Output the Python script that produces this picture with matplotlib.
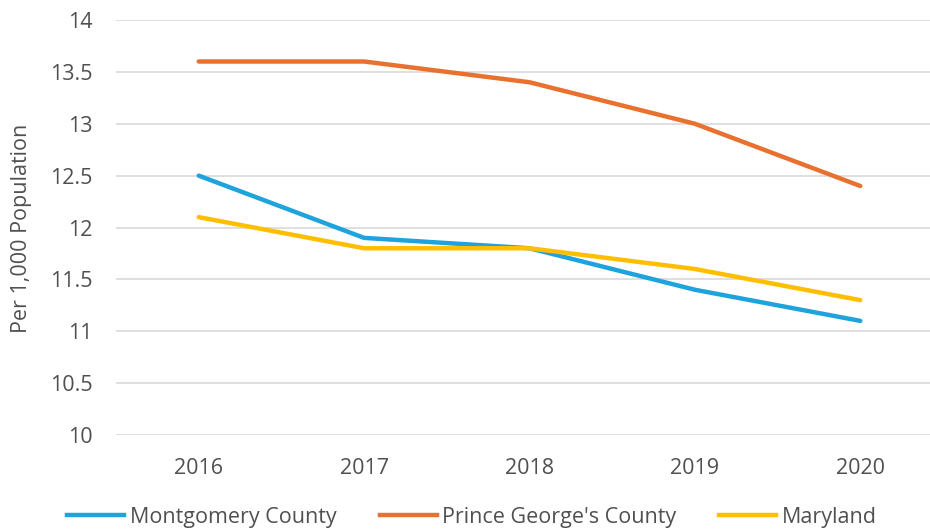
import matplotlib.pyplot as plt
from matplotlib.lines import Line2D

plt.rcParams['font.family'] = ['Open Sans', 'DejaVu Sans']

# values
years = ['2016', '2017', '2018', '2019', '2020']
montgomery = [12.5, 11.9, 11.8, 11.4, 11.1]
prince_georges = [13.6, 13.6, 13.4, 13.0, 12.4]
maryland = [12.1, 11.8, 11.8, 11.6, 11.3]
yticks = [10, 10.5, 11, 11.5, 12, 12.5, 13, 13.5, 14]
ytick_labels = ['10', '10.5', '11', '11.5', '12', '12.5', '13', '13.5', '14']

blue = '#1ea3dc'
orange = '#e8712f'
yellow = '#ffbf00'
grey = '#505050'
fs = 15.5

fig = plt.figure(figsize=(9.30, 5.31), dpi=100)
# plot area runs a bit past the right edge, like the cropped original
ax = fig.add_axes([116 / 930, 1 - 435 / 531, (943 - 116) / 930, (435 - 20) / 531])

x = range(len(years))
ax.plot(x, montgomery, color=blue, lw=3.2, solid_capstyle='round')
ax.plot(x, prince_georges, color=orange, lw=3.2, solid_capstyle='round')
ax.plot(x, maryland, color=yellow, lw=3.2, solid_capstyle='round')

ax.set_xlim(-0.5, 4.5)
ax.set_ylim(10, 14)
ax.set_yticks(yticks)
ax.set_yticklabels(ytick_labels)
ax.set_xticks(list(x))
ax.set_xticklabels(years)
ax.grid(axis='y', color='#d9d9d9', lw=1.2)
ax.set_axisbelow(True)
for s in ax.spines.values():
    s.set_visible(False)
ax.tick_params(length=0, labelsize=fs, labelcolor=grey)
ax.tick_params(axis='y', pad=17)
ax.tick_params(axis='x', pad=16.5)

fig.text(22 / 930, 1 - 228 / 531, 'Per 1,000 Population', rotation=90,
         ha='center', va='center', fontsize=fs, color=grey)

handles = [Line2D([], [], color=c, lw=3.2) for c in (blue, orange, yellow)]
fig.legend(handles, ['Montgomery County', "Prince George's County", 'Maryland'],
           loc='center', bbox_to_anchor=(472 / 930, 1 - 517 / 531), ncol=3,
           frameon=False, fontsize=fs, labelcolor=grey, handlelength=2.65,
           handletextpad=0.25, columnspacing=2.0)

fig.savefig('out.png', dpi=100)
